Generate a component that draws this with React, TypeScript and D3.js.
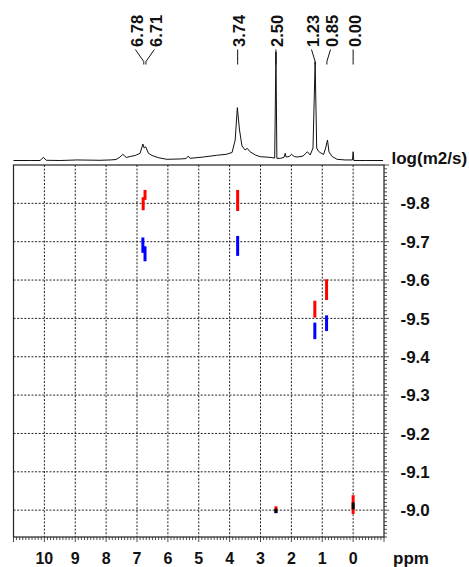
import React from 'react';
import * as d3 from 'd3';

// 1H spectrum trace (ppm, intensity with 2.50 peak = 100)
const specPpm = [11.0, 10.46, 10.14, 10.03, 9.94, 9.49, 8.94, 8.2, 7.87, 7.68, 7.55, 7.46, 7.35, 7.22, 7.06, 6.9, 6.81, 6.77, 6.72, 6.63, 6.51, 6.31, 6.04, 5.6, 5.41, 5.34, 5.28, 4.85, 4.42, 4.11, 3.92, 3.82, 3.75, 3.68, 3.6, 3.5, 3.43, 3.34, 3.17, 3.01, 2.69, 2.54, 2.5, 2.47, 2.36, 2.24, 2.2, 2.17, 2.07, 1.99, 1.91, 1.81, 1.62, 1.48, 1.39, 1.3, 1.23, 1.18, 1.13, 1.07, 0.96, 0.89, 0.83, 0.78, 0.68, 0.52, 0.26, 0.02, 0.0, -0.02, -0.39, -0.97];
const specInt = [0, 0, 0, 2.9, 0.2, 0, 0.5, 0.2, 0.5, 0.9, 3.2, 5.7, 2.8, 3.7, 4.6, 6.6, 15.2, 11.5, 12.7, 6.6, 4.6, 2.6, 1.1, 1.4, 1.8, 4.1, 2.0, 3.2, 4.8, 5.7, 7.4, 18.9, 48.7, 28.1, 13.4, 9.7, 11.2, 8.1, 5.1, 3.5, 2.9, 2.3, 100, 2.0, 2.0, 2.8, 6.6, 3.2, 3.7, 5.7, 3.7, 3.2, 4.1, 8.1, 5.1, 11.5, 91, 11.5, 8.8, 7.4, 5.5, 11.5, 18.9, 7.8, 3.7, 1.1, 0.5, 0.5, 8.1, 0, 0, 0];

// peak annotations
const peakLabels = ['6.78', '6.71', '3.74', '2.50', '1.23', '0.85', '0.00'];
const peakPpm = [6.78, 6.71, 3.74, 2.5, 1.23, 0.85, 0.0];

// DOSY cross peaks: ppm, log D from, log D to
const redPpm = [6.80, 6.74, 3.74, 1.24, 0.86, 2.5, 0.0];
const redFrom = [-9.816, -9.835, -9.835, -9.546, -9.602, -9.01, -9.039];
const redTo = [-9.782, -9.809, -9.78, -9.502, -9.548, -8.998, -8.99];

const bluePpm = [6.81, 6.74, 3.74, 1.24, 0.86, 2.5];
const blueFrom = [-9.711, -9.688, -9.715, -9.489, -9.508, -8.997];
const blueTo = [-9.671, -9.649, -9.663, -9.446, -9.467, -8.992];

const blackPpm = [2.5, 0.0];
const blackFrom = [-9.004, -9.02];
const blackTo = [-8.993, -9.002];

const xTicks = [10, 9, 8, 7, 6, 5, 4, 3, 2, 1, 0];
const yTicks = [-9.8, -9.7, -9.6, -9.5, -9.4, -9.3, -9.2, -9.1, -9.0];

const W = 469;
const H = 567;
const left = 13.5, right = 384, top = 165, bottom = 537;

// push overlapping labels apart, keeping each group centred on its peaks
function spread(xs: number[], gap: number) {
  const order = xs.map((v, i) => i).sort((a, b) => xs[a] - xs[b]);
  let clusters = order.map(i => ({ idx: [i], center: xs[i] }));
  let changed = true;
  while (changed) {
    changed = false;
    for (let i = 0; i < clusters.length - 1; i++) {
      const a = clusters[i], b = clusters[i + 1];
      const aEnd = a.center + (a.idx.length - 1) * gap / 2;
      const bStart = b.center - (b.idx.length - 1) * gap / 2;
      if (bStart - aEnd < gap) {
        const idx = a.idx.concat(b.idx);
        clusters.splice(i, 2, { idx, center: d3.mean(idx, k => xs[k]) as number });
        changed = true;
        break;
      }
    }
  }
  const out: number[] = new Array(xs.length);
  clusters.forEach(c => {
    c.idx.forEach((k, j) => {
      out[k] = c.center + (j - (c.idx.length - 1) / 2) * gap;
    });
  });
  return out;
}

export default function App() {
  const x = d3.scaleLinear().domain([11, -1]).range([left, right]);
  const y = d3.scaleLinear().domain([-9.9, -8.93]).range([top, bottom]);
  const yS = d3.scaleLinear().domain([0, 100]).range([160.5, 52]);

  const specLine = d3.line<number>()
    .x((d, i) => x(specPpm[i]))
    .y(d => yS(d));

  const peakX = peakPpm.map(p => x(p));
  const labelX = spread(peakX, 19);

  const minorX = d3.range(-10, 111).map(v => v / 10);
  const minorY = d3.range(-990, -892).map(v => v / 100);

  const font = '"Liberation Sans", Arial, Helvetica, sans-serif';

  const segs = (ppm: number[], from: number[], to: number[], color: string) =>
    ppm.map((p, i) => (
      <line key={color + i} x1={x(p)} x2={x(p)} y1={y(from[i])} y2={y(to[i])}
        stroke={color} strokeWidth={3} />
    ));

  return (
    <svg width={W} height={H} style={{ position: 'absolute', left: 0, top: 0, background: '#fff' }}
      fontFamily={font}>
      {/* 1D projection */}
      <path d={specLine(specInt) || ''} fill="none" stroke="#111" strokeWidth={1} />

      {/* peak labels */}
      {peakLabels.map((t, i) => (
        <g key={t}>
          <path d={`M${labelX[i]},49.5L${peakX[i]},61.5L${peakX[i]},64.5`} fill="none" stroke="#111" strokeWidth={1} />
          <text transform={`translate(${labelX[i] + 1.5},47) rotate(-90)`} fontSize={16.5} fontWeight="bold"
            dominantBaseline="central" fill="#111">{t}</text>
        </g>
      ))}

      {/* grid */}
      {xTicks.map(t => (
        <line key={'gx' + t} x1={x(t)} x2={x(t)} y1={top} y2={bottom} stroke="#222" strokeWidth={1} strokeDasharray="2,1.6" />
      ))}
      {yTicks.map(t => (
        <line key={'gy' + t} x1={left} x2={right} y1={y(t)} y2={y(t)} stroke="#222" strokeWidth={1} strokeDasharray="2,1.6" />
      ))}

      {/* frame */}
      <rect x={left} y={top} width={right - left} height={bottom - top} fill="none" stroke="#222" strokeWidth={1.2} />

      {/* bottom ticks */}
      {minorX.map(v => {
        const major = Math.abs(v - Math.round(v)) < 1e-6;
        return <line key={'tx' + v} x1={x(v)} x2={x(v)} y1={bottom} y2={bottom + (major ? 5 : 3)} stroke="#222" strokeWidth={0.8} />;
      })}
      {/* right ticks */}
      {minorY.map(v => {
        const major = Math.abs(v * 10 - Math.round(v * 10)) < 1e-6;
        return <line key={'ty' + v} x1={right} x2={right + (major ? 5 : 3)} y1={y(v)} y2={y(v)} stroke="#222" strokeWidth={0.8} />;
      })}

      {/* axis labels */}
      {xTicks.map(t => (
        <text key={'lx' + t} x={x(t)} y={564} textAnchor="middle" fontSize={16} fontWeight="bold" fill="#111">{t}</text>
      ))}
      <text x={393} y={564} fontSize={17} fontWeight="bold" fill="#111">ppm</text>
      {yTicks.map(t => (
        <text key={'ly' + t} x={400.5} y={y(t)} dy="0.36em" fontSize={17} fontWeight="bold" fill="#111">{t.toFixed(1)}</text>
      ))}
      <text x={391.5} y={164} fontSize={17} fontWeight="bold" fill="#111">log(m2/s)</text>

      {/* cross peaks */}
      {segs(redPpm, redFrom, redTo, '#ff0000')}
      {segs(bluePpm, blueFrom, blueTo, '#0000ff')}
      {segs(blackPpm, blackFrom, blackTo, '#000000')}
    </svg>
  );
}
